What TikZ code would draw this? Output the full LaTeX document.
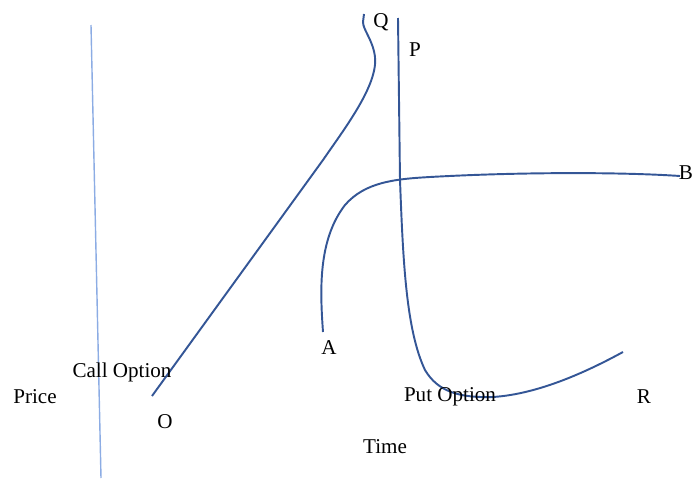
\documentclass[tikz,border=0pt]{standalone}
\usepackage{fontspec}
\setmainfont{Liberation Serif}
\usepackage{xcolor}
\definecolor{curveblue}{RGB}{52, 86, 150}
\definecolor{axisblue}{RGB}{140, 172, 228}
\tikzset{
    curve/.style={curveblue, line width=1.1pt},
    lbl/.style={inner sep=0pt, font=\fontsize{12}{14}\selectfont}
}

\begin{document}
\begin{tikzpicture}[x=0.02cm, y=-0.02cm]
        \useasboundingbox (0,0) rectangle (694,480);

        % axis line
        \draw[axisblue, line width=0.8pt] (91,25) -- (101,478);

        % call option curve O -> Q
        \draw[curve] (152,396) -- (323,160)
            .. controls (345,128) and (378,85) .. (375,57)
            .. controls (373,40) and (363,30) .. (363,22) -- (364,14);

        % put option curve P -> R
        \draw[curve] (398,18) -- (400,180)
            .. controls (403,260) and (406,330) .. (425,370)
            .. controls (438,392) and (460,398) .. (493,397)
            .. controls (540,394) and (590,370) .. (623,352);

        % curve A -> B
        \draw[curve] (323,332) .. controls (320,290) and (318,240) .. (345,205)
            .. controls (365,182) and (395,179) .. (430,177)
            .. controls (520,172) and (620,172) .. (680,176);

        % labels
        \node[lbl] (lblQ) at (381,22) {Q};
        \node[lbl] (lblP) at (415,50) {P};
        \node[lbl] (lblB) at (686,173) {B};
        \node[lbl] (lblA) at (329,348) {A};
        \node[lbl] (lblCall) at (122,372) {Call Option};
        \node[lbl] (lblPrice) at (35,397) {Price};
        \node[lbl] (lblO) at (165,422) {O};
        \node[lbl] (lblPut) at (450,397) {Put Option};
        \node[lbl] (lblR) at (644,397) {R};
        \node[lbl] (lblTime) at (385,447) {Time};
\end{tikzpicture}
\end{document}
